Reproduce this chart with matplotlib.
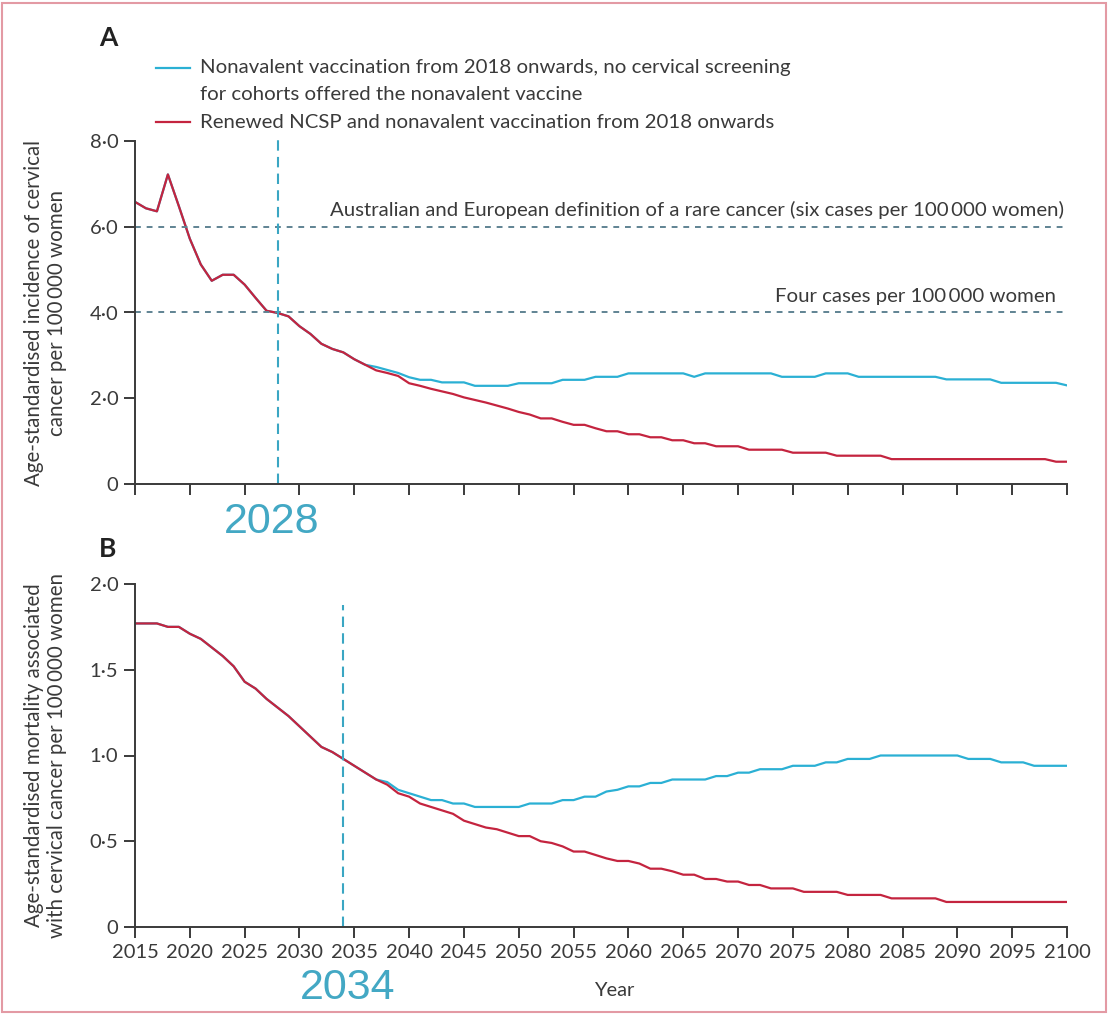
import matplotlib
matplotlib.use("Agg")
import matplotlib.pyplot as plt
from matplotlib.lines import Line2D
from matplotlib.patches import Rectangle

plt.rcParams['font.family'] = ['Lato', 'DejaVu Sans']

years = list(range(2015, 2101))

# Panel A: incidence per 100 000 women
inc_screen = [6.58, 6.43, 6.36, 7.22, 6.48, 5.72, 5.12, 4.74, 4.88, 4.88,
              4.65, 4.34, 4.04, 3.99, 3.91, 3.68, 3.50, 3.27, 3.15, 3.07,
              2.91, 2.78, 2.65, 2.59, 2.52, 2.35, 2.29, 2.22, 2.16, 2.10,
              2.02, 1.96, 1.90, 1.83, 1.76, 1.68, 1.62, 1.53, 1.53, 1.45,
              1.38, 1.38, 1.30, 1.23, 1.23, 1.16, 1.16, 1.09, 1.09, 1.02,
              1.02, 0.95, 0.95, 0.88, 0.88, 0.88, 0.80, 0.80, 0.80, 0.80,
              0.73, 0.73, 0.73, 0.73, 0.66, 0.66, 0.66, 0.66, 0.66, 0.58,
              0.58, 0.58, 0.58, 0.58, 0.58, 0.58, 0.58, 0.58, 0.58, 0.58,
              0.58, 0.58, 0.58, 0.58, 0.52, 0.52]
inc_noscreen = [6.58, 6.43, 6.36, 7.22, 6.48, 5.72, 5.12, 4.74, 4.88, 4.88,
                4.65, 4.34, 4.04, 3.99, 3.91, 3.68, 3.50, 3.27, 3.15, 3.07,
                2.91, 2.78, 2.73, 2.66, 2.59, 2.49, 2.43, 2.43, 2.37, 2.37,
                2.37, 2.29, 2.29, 2.29, 2.29, 2.35, 2.35, 2.35, 2.35, 2.43,
                2.43, 2.43, 2.50, 2.50, 2.50, 2.58, 2.58, 2.58, 2.58, 2.58,
                2.58, 2.50, 2.58, 2.58, 2.58, 2.58, 2.58, 2.58, 2.58, 2.50,
                2.50, 2.50, 2.50, 2.58, 2.58, 2.58, 2.50, 2.50, 2.50, 2.50,
                2.50, 2.50, 2.50, 2.50, 2.44, 2.44, 2.44, 2.44, 2.44, 2.36,
                2.36, 2.36, 2.36, 2.36, 2.36, 2.30]

# Panel B: mortality per 100 000 women
mort_screen = [1.77, 1.77, 1.77, 1.75, 1.75, 1.71, 1.68, 1.63, 1.58, 1.52,
               1.43, 1.39, 1.33, 1.28, 1.23, 1.17, 1.11, 1.05, 1.02, 0.98,
               0.94, 0.90, 0.86, 0.83, 0.78, 0.76, 0.72, 0.70, 0.68, 0.66,
               0.62, 0.60, 0.58, 0.57, 0.55, 0.53, 0.53, 0.50, 0.49, 0.47,
               0.44, 0.44, 0.42, 0.40, 0.385, 0.385, 0.37, 0.34, 0.34, 0.325,
               0.305, 0.305, 0.28, 0.28, 0.265, 0.265, 0.245, 0.245, 0.225, 0.225,
               0.225, 0.205, 0.205, 0.205, 0.205, 0.187, 0.187, 0.187, 0.187, 0.167,
               0.167, 0.167, 0.167, 0.167, 0.146, 0.146, 0.146, 0.146, 0.146, 0.146,
               0.146, 0.146, 0.146, 0.146, 0.146, 0.146]
mort_noscreen = [1.77, 1.77, 1.77, 1.75, 1.75, 1.71, 1.68, 1.63, 1.58, 1.52,
                 1.43, 1.39, 1.33, 1.28, 1.23, 1.17, 1.11, 1.05, 1.02, 0.98,
                 0.94, 0.90, 0.86, 0.845, 0.80, 0.78, 0.76, 0.74, 0.74, 0.72,
                 0.72, 0.70, 0.70, 0.70, 0.70, 0.70, 0.72, 0.72, 0.72, 0.74,
                 0.74, 0.76, 0.76, 0.79, 0.80, 0.82, 0.82, 0.84, 0.84, 0.86,
                 0.86, 0.86, 0.86, 0.88, 0.88, 0.90, 0.90, 0.92, 0.92, 0.92,
                 0.94, 0.94, 0.94, 0.96, 0.96, 0.98, 0.98, 0.98, 1.00, 1.00,
                 1.00, 1.00, 1.00, 1.00, 1.00, 1.00, 0.98, 0.98, 0.98, 0.96,
                 0.96, 0.96, 0.94, 0.94, 0.94, 0.94]

inc_ticks = [0, 2, 4, 6, 8]
inc_ticklabels = ['0', '2·0', '4·0', '6·0', '8·0']
mort_ticks = [0, 0.5, 1.0, 1.5, 2.0]
mort_ticklabels = ['0', '0·5', '1·0', '1·5', '2·0']
year_ticks = list(range(2015, 2101, 5))

blue = '#2bb0d4'
red = '#c4243f'
mark_blue = '#3aa6c3'
dark = '#3a3a3a'
ref_col = '#5f8393'

W, H = 1109, 1014
fig = plt.figure(figsize=(W / 100, H / 100), dpi=100)
fig.patches.append(Rectangle((2 / W, 2 / H), 1 - 5 / W, 1 - 5 / H, transform=fig.transFigure,
                             fill=False, edgecolor='#e39aa4', linewidth=1.5))

axA = fig.add_axes([135 / W, 1 - 484 / H, 932 / W, 343 / H])
axB = fig.add_axes([135 / W, 1 - 927 / H, 932 / W, 343 / H])

for ax in (axA, axB):
    ax.spines['top'].set_visible(False)
    ax.spines['right'].set_visible(False)
    ax.spines['left'].set_color(dark)
    ax.spines['bottom'].set_color(dark)
    ax.spines['left'].set_linewidth(1.4)
    ax.spines['bottom'].set_linewidth(1.4)
    ax.set_xlim(2015, 2100)
    ax.set_xticks(year_ticks)
    ax.tick_params(direction='out', length=8, width=1.4, color=dark, labelcolor=dark,
                   labelsize=14.5, pad=4)

# panel A
axA.plot(years, inc_noscreen, color=blue, lw=1.6)
axA.plot(years, inc_screen, color=red, lw=1.6)
axA.set_ylim(0, 8)
axA.set_yticks(inc_ticks)
axA.set_yticklabels(inc_ticklabels)
axA.set_xticklabels([])
axA.axhline(6, color=ref_col, lw=1.4, ls=(0, (3, 3)))
axA.axhline(4, color=ref_col, lw=1.4, ls=(0, (3, 3)))
axA.axvline(2028, ymax=1.02, color=mark_blue, lw=1.5, ls=(0, (5, 3)), clip_on=False)
axA.text(2099.7, 6.17, 'Australian and European definition of a rare cancer (six cases per 100\u2009000 women)',
         ha='right', va='bottom', fontsize=14.7, color=dark)
axA.text(2099, 4.17, 'Four cases per 100\u2009000 women', ha='right', va='bottom',
         fontsize=14.7, color=dark)
axA.set_ylabel('Age-standardised incidence of cervical\ncancer per 100\u2009000 women',
               fontsize=14.8, color=dark, linespacing=1.2)
axA.yaxis.set_label_coords(-0.073, 0.5)

# panel B
axB.plot(years, mort_noscreen, color=blue, lw=1.6)
axB.plot(years, mort_screen, color=red, lw=1.6)
axB.set_ylim(0, 2)
axB.set_yticks(mort_ticks)
axB.set_yticklabels(mort_ticklabels)
axB.vlines(2034, 0, 1.88, color=mark_blue, lw=1.5, linestyles=[(0, (5, 3))])
axB.set_xlabel('Year', fontsize=14.5, color=dark)
axB.xaxis.set_label_coords(0.514, -0.16)
axB.set_ylabel('Age-standardised mortality associated\nwith cervical cancer per 100\u2009000 women',
               fontsize=14.8, color=dark, linespacing=1.2)
axB.yaxis.set_label_coords(-0.073, 0.5)

# panel letters and highlighted years
fig.text(99 / W, 1 - 38 / H, 'A', fontsize=19, fontweight='bold', color='#222222', va='center')
fig.text(99 / W, 1 - 549 / H, 'B', fontsize=19, fontweight='bold', color='#222222', va='center')
fig.text(272 / W, 1 - 522 / H, '2028', fontsize=31, color='#43a8c4', ha='center', va='center',
         family='Liberation Sans')
fig.text(348 / W, 1 - 988 / H, '2034', fontsize=31, color='#43a8c4', ha='center', va='center',
         family='Liberation Sans')

# legend
fig.add_artist(Line2D([156 / W, 190 / W], [1 - 68 / H] * 2, color=blue, lw=1.6))
fig.add_artist(Line2D([156 / W, 190 / W], [1 - 122 / H] * 2, color=red, lw=1.6))
fig.text(200 / W, 1 - 68 / H, 'Nonavalent vaccination from 2018 onwards, no cervical screening',
         fontsize=14.7, color=dark, va='center')
fig.text(200 / W, 1 - 95 / H, 'for cohorts offered the nonavalent vaccine',
         fontsize=14.7, color=dark, va='center')
fig.text(200 / W, 1 - 122 / H, 'Renewed NCSP and nonavalent vaccination from 2018 onwards',
         fontsize=14.7, color=dark, va='center')

fig.savefig('out.png', dpi=100)
